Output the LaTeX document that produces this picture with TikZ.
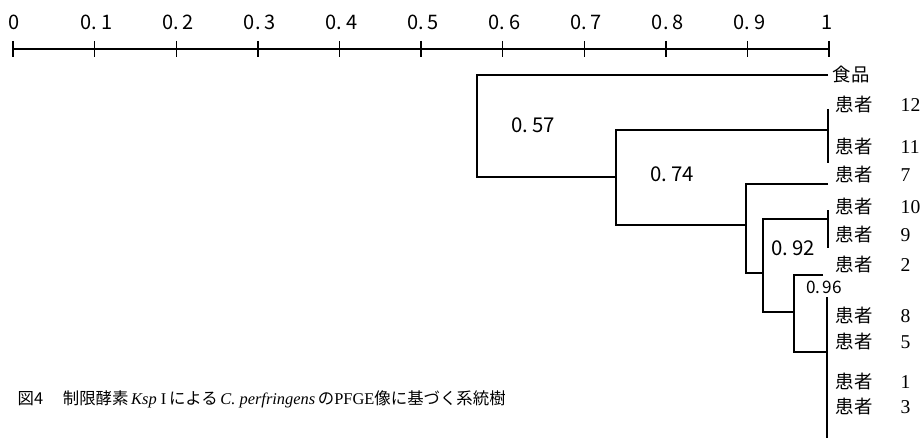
\documentclass[tikz,border=0pt]{standalone}
\usepackage{fontspec}
\setmainfont{Liberation Serif}
\newfontfamily\jp{Noto Sans CJK JP}
\begin{document}
\begin{tikzpicture}[x=0.5pt,y=-0.5pt,line width=0.7pt,
  scalelab/.style={font=\jp\fontsize{10}{10}\selectfont,inner sep=0},
  simlab/.style={font=\jp\fontsize{10.2}{10}\selectfont,inner sep=0},
  simsmall/.style={font=\jp\fontsize{8.6}{8}\selectfont,inner sep=0},
  leaf/.style={font=\jp\fontsize{9.2}{10}\selectfont,anchor=west,inner sep=0},
  num/.style={font=\fontsize{9.8}{10}\selectfont,anchor=west,inner sep=0},
  br/.style={draw,line width=0.7pt}]
\useasboundingbox (0,0) rectangle (924,438);
% axis
\coordinate (a0) at (13,49);
\coordinate (a10) at (829,49);
\draw[br] (a0) -- (a10);
\foreach \i/\t in {0/0,1/0.\hspace{0.2em}1,2/0.\hspace{0.2em}2,3/0.\hspace{0.2em}3,4/0.\hspace{0.2em}4,5/0.\hspace{0.2em}5,6/0.\hspace{0.2em}6,7/0.\hspace{0.2em}7,8/0.\hspace{0.2em}8,9/0.\hspace{0.2em}9,10/1}{
  \draw[br] ({13+81.6*\i},41) -- ({13+81.6*\i},57);
  \node[scalelab] (s\i) at ({13+81.6*\i+(\i==0?1:(\i==10?-2:2))},22) {\t};
}
% leaves
\node[leaf] (food) at (832,75) {食品};
\foreach \n/\y in {12/105,11/147,7/175,10/207,9/235,2/265,8/316,5/342,1/382,3/407}{
  \node[leaf] (p\n) at (835,\y) {患者};
  \node[num] (n\n) at (900,\y) {\n};
}
% junction coordinates
\coordinate (r1) at (477,75);   \coordinate (r2) at (477,177);
\coordinate (f1) at (828,75);
\coordinate (b1) at (616,177);  \coordinate (b2) at (616,130);
\coordinate (b3) at (616,225);  \coordinate (g12) at (828,130);
\coordinate (g12t) at (828,109); \coordinate (g12b) at (828,163);
\coordinate (c1) at (746,225);  \coordinate (c2) at (746,184);
\coordinate (c3) at (746,273);  \coordinate (l7) at (828,184);
\coordinate (d1) at (763,273);  \coordinate (d2) at (763,219);
\coordinate (d3) at (763,312);  \coordinate (g10) at (828,219);
\coordinate (g10t) at (828,210); \coordinate (g10b) at (828,248);
\coordinate (e1) at (794,312);  \coordinate (e2) at (794,275);
\coordinate (e3) at (794,352);  \coordinate (e2r) at (823,275);
\coordinate (e3r) at (827,352); \coordinate (g1t) at (827,297);
\coordinate (g1b) at (827,438);
% branches
\draw[br] (f1) -- (r1) -- (r2) -- (b1);
\draw[br] (g12) -- (b2) -- (b3) -- (c1);
\draw[br] (g12t) -- (g12b);
\draw[br] (l7) -- (c2) -- (c3) -- (d1);
\draw[br] (g10) -- (d2) -- (d3) -- (e1);
\draw[br] (g10t) -- (g10b);
\draw[br] (e2r) -- (e2) -- (e3) -- (e3r);
\draw[br] (g1t) -- (g1b);
% similarity labels
\node[simlab] (v57) at (533,125) {0.\hspace{0.2em}57};
\node[simlab] (v74) at (672,174) {0.\hspace{0.2em}74};
\node[simlab] (v92) at (793,248) {0.\hspace{0.2em}92};
\node[simsmall] (v96) at (824,287) {0.\hspace{0.1em}96};
% caption
\node[anchor=west,inner sep=0,font=\fontsize{8.2}{9}\selectfont] (cap) at (17,399)
 {{\jp 図4}\hspace{1.2em}{\jp 制限酵素}\,\textit{Ksp}\ I\,{\jp による}\,\textit{C.\ perfringens}\,{\jp の}PFGE{\jp 像に基づく系統樹}};
\end{tikzpicture}
\end{document}
